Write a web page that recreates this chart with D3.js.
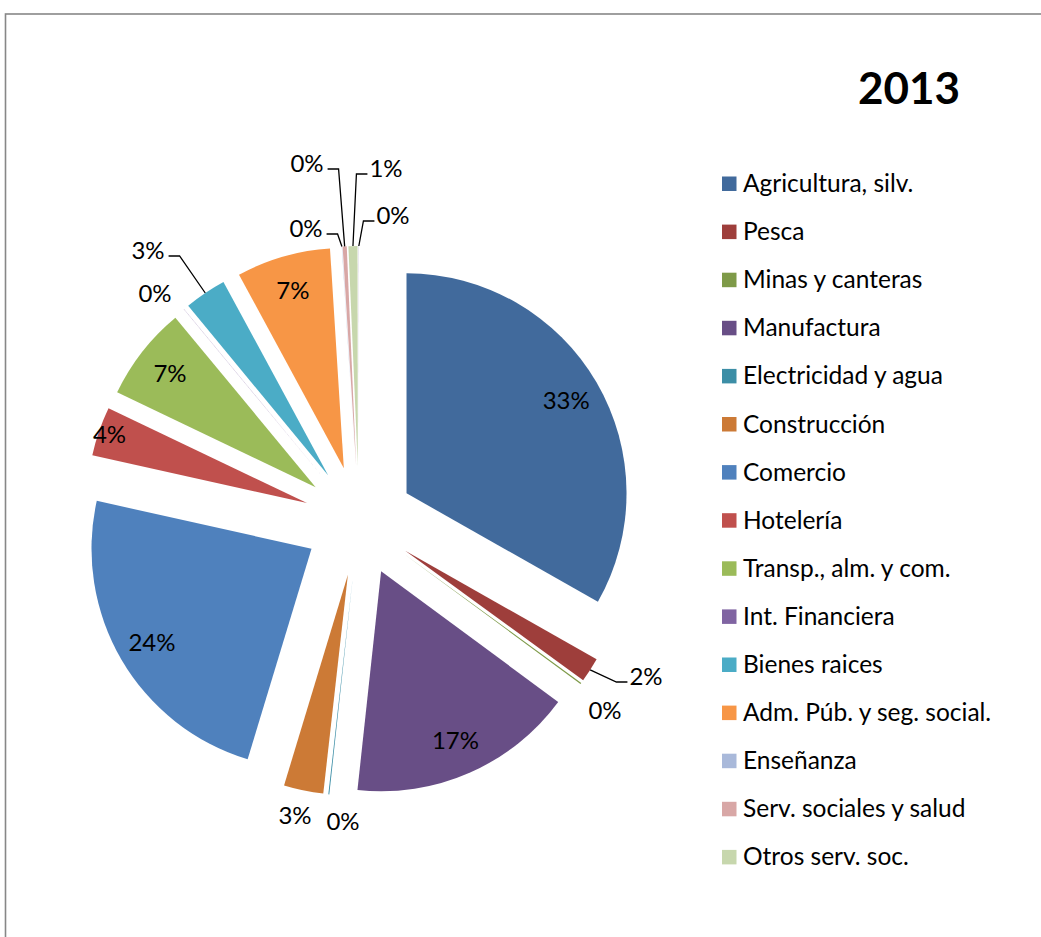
<!DOCTYPE html>
<html>
<head>
<meta charset="utf-8">
<script src="https://cdn.jsdelivr.net/npm/d3@7/dist/d3.min.js"></script>
<style>
  html, body { margin: 0; padding: 0; background: #fff; }
  svg { display: block; }
  text { font-family: Lato, "Open Sans", sans-serif; fill: #000; }
</style>
</head>
<body>
<svg id="chart" width="1041" height="937"></svg>
<script>
// Sector shares of GDP, 2013 (percent)
const categories = [
  "Agricultura, silv.", "Pesca", "Minas y canteras", "Manufactura",
  "Electricidad y agua", "Construcción", "Comercio", "Hotelería",
  "Transp., alm. y com.", "Int. Financiera", "Bienes raices",
  "Adm. Púb. y seg. social.", "Enseñanza", "Serv. sociales y salud",
  "Otros serv. soc.", "Hogares privados"
];
const shares = [33.2, 1.8, 0.1, 16.6, 0.07, 2.9, 23.8, 3.6, 6.9, 0.02, 3.08, 6.9, 0.02, 0.3, 0.66, 0.02];
const sliceColors = [
  "#416a9c", "#9e3e3b", "#7e9a48", "#684e86", "#3c8ea6", "#cc7a36",
  "#4f81bd", "#c0504d", "#9bbb59", "#8064a2", "#4bacc6", "#f79646",
  "#a9b9da", "#d8a7a6", "#c7d7ad", "#b8acc9"
];
const legendEntries = categories.slice(0, 15);
const chartTitle = "2013";

// Layout
const W = 1041, H = 937;
const cx = 359, cy = 521;          // pie centre
const radius = 220;
const explode = 55;                // every slice pulled out by the same distance
const labelFont = 24;

// Label placement for small slices: offset of the label centre from the pie centre,
// and whether a leader line is drawn.
const calloutLayout = {
  1:  { dx: 287, dy: 155, leader: true },
  2:  { dx: 246, dy: 189, leader: false },
  4:  { dx: -16, dy: 300, leader: false },
  5:  { dx: -64, dy: 294, leader: false },
  9:  { dx: -204, dy: -228, leader: false },
  10: { dx: -211, dy: -271, leader: true },
  12: { dx: -53, dy: -293, leader: true },
  13: { dx: -52, dy: -358, leader: true },
  14: { dx: 27, dy: -353, leader: true },
  15: { dx: 34, dy: -306, leader: true }
};
// inside labels: distance from the slice apex as a fraction of the radius
const insideRadius = { 7: 0.95 };

const svg = d3.select("#chart");

// chart frame
svg.append("rect")
  .attr("x", 5.5).attr("y", 14)
  .attr("width", W + 40).attr("height", H + 40)
  .attr("fill", "none")
  .attr("stroke", "#878787")
  .attr("stroke-width", 1.6);

const total = d3.sum(shares);
const pct = d3.format(".0%");

const pie = d3.pie().sort(null).value(d => d).startAngle(0).endAngle(2 * Math.PI);
const arcs = pie(shares);
const arc = d3.arc().innerRadius(0).outerRadius(radius);

const dir = a => [Math.sin(a), -Math.cos(a)];

const g = svg.append("g").attr("transform", `translate(${cx},${cy})`);

const slices = g.selectAll("g.slice")
  .data(arcs)
  .join("g")
  .attr("class", "slice")
  .attr("transform", d => {
    const m = (d.startAngle + d.endAngle) / 2;
    const [ux, uy] = dir(m);
    return `translate(${ux * explode},${uy * explode})`;
  });

slices.append("path")
  .attr("d", arc)
  .attr("fill", (d, i) => sliceColors[i]);

// value labels
arcs.forEach((d, i) => {
  const m = (d.startAngle + d.endAngle) / 2;
  const [ux, uy] = dir(m);
  const text = pct(d.data / total);
  let lx, ly;
  const spec = calloutLayout[i];
  if (spec) {
    lx = spec.dx; ly = spec.dy;
  } else {
    const f = insideRadius[i] || 0.84;
    lx = ux * (explode + radius * f);
    ly = uy * (explode + radius * f);
  }
  const t = g.append("text")
    .attr("x", lx)
    .attr("y", ly + labelFont * 0.36)
    .attr("text-anchor", "middle")
    .attr("font-size", labelFont)
    .text(text);

  if (spec && spec.leader) {
    const w = t.node().getComputedTextLength();
    const px = ux * (explode + radius);
    const py = uy * (explode + radius);
    const onLeft = lx < px;
    const ay = ly + 6;
    const ax = onLeft ? lx + w / 2 + 4 : lx - w / 2 - 2;
    const ex = onLeft ? ax + 11 : ax - 11;
    g.append("path")
      .attr("d", `M${ax},${ay}L${ex},${ay}L${px},${py}`)
      .attr("fill", "none")
      .attr("stroke", "#000")
      .attr("stroke-width", 1.3);
  }
});

// title
svg.append("text")
  .attr("x", 909).attr("y", 104)
  .attr("text-anchor", "middle")
  .attr("font-size", 44)
  .attr("font-weight", "bold")
  .text(chartTitle);

// legend
const legendY = d3.scalePoint()
  .domain(legendEntries)
  .range([192, 192 + 48.1 * (legendEntries.length - 1)]);

const legend = svg.append("g").selectAll("g")
  .data(legendEntries)
  .join("g")
  .attr("transform", d => `translate(722,${legendY(d)})`);

legend.append("rect")
  .attr("x", 0).attr("y", -15.5)
  .attr("width", 14.5).attr("height", 14.5)
  .attr("fill", (d, i) => sliceColors[i]);

legend.append("text")
  .attr("x", 21).attr("y", 0)
  .attr("font-size", 24.5)
  .text(d => d);
</script>
</body>
</html>
